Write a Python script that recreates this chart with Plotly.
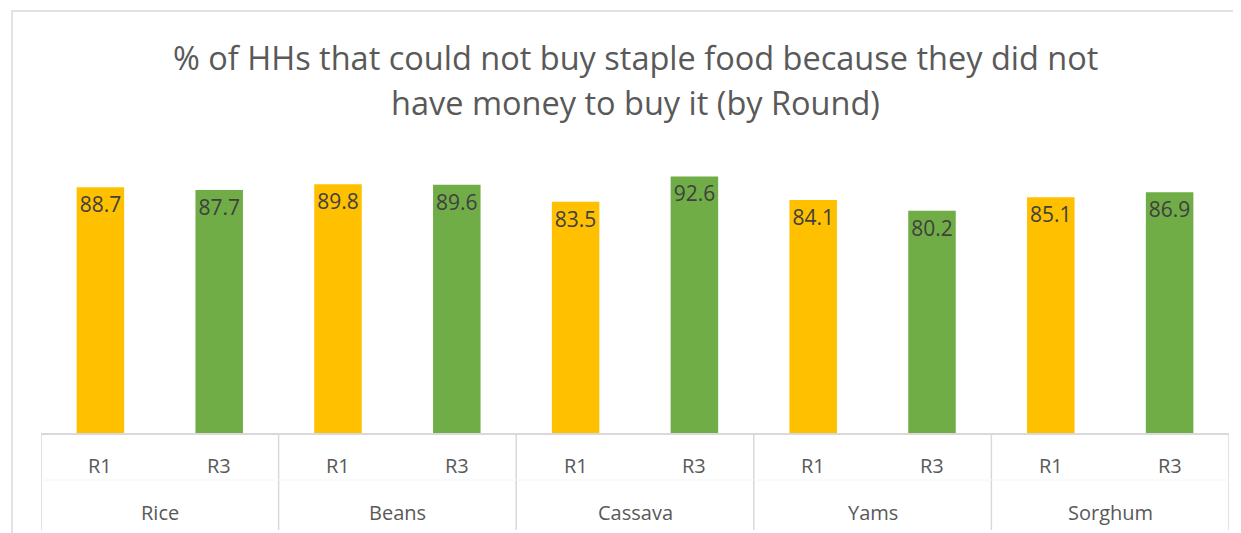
import plotly.graph_objects as go

foods = ["Rice", "Beans", "Cassava", "Yams", "Sorghum"]
rounds = ["R1", "R3"]
r1_values = [88.7, 89.8, 83.5, 84.1, 85.1]
r3_values = [87.7, 89.6, 92.6, 80.2, 86.9]
title_lines = ["% of HHs that could not buy staple food because they did not",
               "have money to buy it (by Round)"]

YELLOW = "#FFC000"
GREEN = "#70AD47"
FONT = "Open Sans"
GRID = "#d9d9d9"
TXT = "#595959"

cats, labs, vals, cols = [], [], [], []
for i, f in enumerate(foods):
    for r, v, c in ((rounds[0], r1_values[i], YELLOW), (rounds[1], r3_values[i], GREEN)):
        cats.append(f + " " + r)
        labs.append(r)
        vals.append(v)
        cols.append(c)

fig = go.Figure(go.Bar(
    x=cats, y=vals, marker=dict(color=cols, line=dict(width=0)),
    width=0.4, text=[f"{v:.1f}" for v in vals], textposition="inside",
    insidetextanchor="end", textangle=0,
    textfont=dict(family=FONT, size=21, color="#404040"),
    hoverinfo="skip", cliponaxis=False,
))

H = 277.0
def py(pix):
    return (433 - pix) / H

# page has an 8px body margin; margins compensate so the plot area sits at x 41-1229, y 156-433
fig.update_layout(
    width=1241, height=533,
    margin=dict(l=33, r=20, t=148, b=108),
    paper_bgcolor="white", plot_bgcolor="white",
    showlegend=False,
    font=dict(family=FONT, color=TXT),
    uniformtext=dict(minsize=8, mode=False),
)
fig.update_xaxes(
    type="category", showline=True, linecolor=GRID, linewidth=1.5,
    showticklabels=False, ticks="", showgrid=False, automargin=False,
    range=[-0.5, len(cats) - 0.5],
)
fig.update_yaxes(range=[0, 100], visible=False, automargin=False)

# round labels
for i, (c, l) in enumerate(zip(cats, labs)):
    fig.add_annotation(text=l, xref="x", yref="paper", x=i, y=py(465),
                       showarrow=False, xanchor="center", yanchor="middle",
                       font=dict(family=FONT, size=20, color=TXT))
# food labels
for i, f in enumerate(foods):
    fig.add_annotation(text=f, xref="x", yref="paper", x=2 * i + 0.5, y=py(512),
                       showarrow=False, xanchor="center", yanchor="middle",
                       font=dict(family=FONT, size=20, color=TXT))
# dividers
for k in range(len(foods) + 1):
    fig.add_shape(type="line", xref="x", yref="paper", x0=2 * k - 0.5, x1=2 * k - 0.5,
                  y0=py(433), y1=py(530), line=dict(color=GRID, width=1.5))
# faint row separator
fig.add_shape(type="line", xref="paper", yref="paper", x0=0, x1=1,
              y0=py(480), y1=py(480), line=dict(color="#f4f4f4", width=1))

for t, yp in zip(title_lines, [py(57), py(103)]):
    fig.add_annotation(text=t, xref="paper", yref="paper", x=0.5, y=yp,
                       showarrow=False, xanchor="center", yanchor="middle",
                       font=dict(family=FONT, size=32.5, color=TXT))

fig.add_shape(type="rect", xref="paper", yref="paper",
              x0=-29 / 1188, x1=1.1, y0=-0.5, y1=py(11),
              line=dict(color=GRID, width=1.5), fillcolor="rgba(0,0,0,0)", layer="below")

fig.write_html("out.html")
